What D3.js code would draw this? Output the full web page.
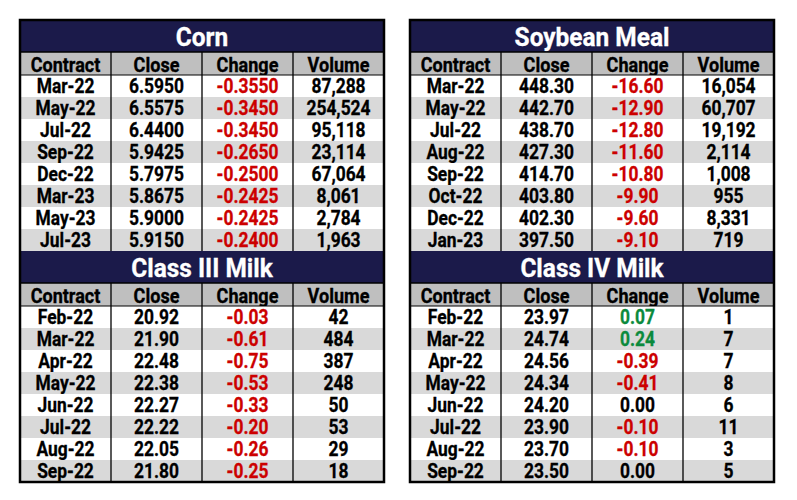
<!DOCTYPE html>
<html>
<head>
<meta charset="utf-8">
<script src="https://cdn.jsdelivr.net/npm/d3@7"></script>
<style>
  body { margin: 0; background: #fff; }
  svg text { font-family: Roboto, "Liberation Sans", sans-serif; font-weight: bold; }
</style>
</head>
<body>
<div id="chart"></div>
<script>
var columns = ['Contract', 'Close', 'Change', 'Volume'];

var corn_contracts = ['Mar-22', 'May-22', 'Jul-22', 'Sep-22', 'Dec-22', 'Mar-23', 'May-23', 'Jul-23'];
var corn_close = [6.5950, 6.5575, 6.4400, 5.9425, 5.7975, 5.8675, 5.9000, 5.9150];
var corn_change = [-0.3550, -0.3450, -0.3450, -0.2650, -0.2500, -0.2425, -0.2425, -0.2400];
var corn_volume = [87288, 254524, 95118, 23114, 67064, 8061, 2784, 1963];

var meal_contracts = ['Mar-22', 'May-22', 'Jul-22', 'Aug-22', 'Sep-22', 'Oct-22', 'Dec-22', 'Jan-23'];
var meal_close = [448.30, 442.70, 438.70, 427.30, 414.70, 403.80, 402.30, 397.50];
var meal_change = [-16.60, -12.90, -12.80, -11.60, -10.80, -9.90, -9.60, -9.10];
var meal_volume = [16054, 60707, 19192, 2114, 1008, 955, 8331, 719];

var milk3_contracts = ['Feb-22', 'Mar-22', 'Apr-22', 'May-22', 'Jun-22', 'Jul-22', 'Aug-22', 'Sep-22'];
var milk3_close = [20.92, 21.90, 22.48, 22.38, 22.27, 22.22, 22.05, 21.80];
var milk3_change = [-0.03, -0.61, -0.75, -0.53, -0.33, -0.20, -0.26, -0.25];
var milk3_volume = [42, 484, 387, 248, 50, 53, 29, 18];

var milk4_contracts = ['Feb-22', 'Mar-22', 'Apr-22', 'May-22', 'Jun-22', 'Jul-22', 'Aug-22', 'Sep-22'];
var milk4_close = [23.97, 24.74, 24.56, 24.34, 24.20, 23.90, 23.70, 23.50];
var milk4_change = [0.07, 0.24, -0.39, -0.41, 0.00, -0.10, -0.10, 0.00];
var milk4_volume = [1, 7, 7, 8, 6, 11, 3, 5];

var locale = d3.formatLocale({decimal: '.', thousands: ',', grouping: [3], currency: ['$', ''], minus: '-'});

var panels = [
    { title: 'Corn', side: 0, slot: 0, digits: 4, contracts: corn_contracts, close: corn_close, change: corn_change, volume: corn_volume },
    { title: 'Class III Milk', side: 0, slot: 1, digits: 2, contracts: milk3_contracts, close: milk3_close, change: milk3_change, volume: milk3_volume },
    { title: 'Soybean Meal', side: 1, slot: 0, digits: 2, contracts: meal_contracts, close: meal_close, change: meal_change, volume: meal_volume },
    { title: 'Class IV Milk', side: 1, slot: 1, digits: 2, contracts: milk4_contracts, close: milk4_close, change: milk4_change, volume: milk4_volume }
];

var width = 797, height = 500;
var table_width = 364;
var side_x = [20, 410];
var top_y = 20;
var title_h = 32, header_h = 23, row_h = 22, n_rows = 8;
var panel_h = title_h + header_h + n_rows * row_h;

var navy = '#1b1a4a', header_grey = '#bfbfbf', stripe = '#d9d9d9';
var red = '#cc0000', green = '#0b8a3c';

// squeeze text horizontally to mimic the condensed face of the original
var header_squeeze = 0.86, cell_squeeze = 0.87, title_squeeze = 0.94;

var svg = d3.select('#chart').append('svg')
    .attr('width', width)
    .attr('height', height);

function squeezed(sel, x, y, sx) {
    return sel.attr('transform', 'translate(' + x + ',' + y + ') scale(' + sx + ',1)')
        .attr('text-anchor', 'middle');
}

panels.forEach(function(p) {
    var x0 = side_x[p.side];
    var y0 = top_y + p.slot * panel_h;
    var fmt = locale.format('.' + p.digits + 'f');
    var vol_fmt = locale.format(',');

    var xCol = d3.scaleBand().domain(columns).range([x0, x0 + table_width]);
    var yRow = d3.scaleBand().domain(d3.range(n_rows)).range([y0 + title_h + header_h, y0 + panel_h]);

    var g = svg.append('g');

    // title bar
    g.append('rect')
        .attr('x', x0).attr('y', y0)
        .attr('width', table_width).attr('height', title_h)
        .attr('fill', navy);
    squeezed(g.append('text'), x0 + table_width / 2, y0 + title_h - 6, title_squeeze)
        .attr('fill', '#fff')
        .attr('stroke', '#fff').attr('stroke-width', 0.3)
        .style('font-size', '26px')
        .text(p.title);

    // header row
    g.append('rect')
        .attr('x', x0).attr('y', y0 + title_h)
        .attr('width', table_width).attr('height', header_h)
        .attr('fill', header_grey);
    g.selectAll('.hdr').data(columns).enter().append('text')
        .each(function(d) {
            squeezed(d3.select(this), xCol(d) + xCol.bandwidth() / 2, y0 + title_h + header_h - 3.5, header_squeeze);
        })
        .attr('fill', '#000')
        .attr('stroke', '#000').attr('stroke-width', 0.35)
        .style('font-size', '21px')
        .text(function(d) { return d; });

    // data rows
    var rows = p.contracts.map(function(c, i) {
        return { i: i, cells: [
            { col: 'Contract', text: c, color: '#000' },
            { col: 'Close', text: fmt(p.close[i]), color: '#000' },
            { col: 'Change', text: fmt(p.change[i]), color: p.change[i] < 0 ? red : (p.change[i] > 0 ? green : '#000') },
            { col: 'Volume', text: vol_fmt(p.volume[i]), color: '#000' }
        ]};
    });

    var row_g = g.selectAll('.row').data(rows).enter().append('g');
    row_g.append('rect')
        .attr('x', x0)
        .attr('y', function(d) { return yRow(d.i); })
        .attr('width', table_width)
        .attr('height', yRow.bandwidth())
        .attr('fill', function(d) { return d.i % 2 ? stripe : '#fff'; });
    row_g.selectAll('text').data(function(d) { return d.cells.map(function(c) { c.i = d.i; return c; }); })
        .enter().append('text')
        .each(function(c) {
            squeezed(d3.select(this), xCol(c.col) + xCol.bandwidth() / 2, yRow(c.i) + yRow.bandwidth() - 4, cell_squeeze);
        })
        .attr('fill', function(c) { return c.color; })
        .attr('stroke', function(c) { return c.color; }).attr('stroke-width', 0.3)
        .style('font-size', '20px')
        .text(function(c) { return c.text; });

    // lines
    g.append('line')
        .attr('x1', x0).attr('x2', x0 + table_width)
        .attr('y1', y0 + title_h).attr('y2', y0 + title_h)
        .attr('stroke', '#000').attr('stroke-width', 1.5);
    g.append('line')
        .attr('x1', x0).attr('x2', x0 + table_width)
        .attr('y1', y0 + title_h + header_h).attr('y2', y0 + title_h + header_h)
        .attr('stroke', '#000').attr('stroke-width', 1);
    g.selectAll('.divider').data(columns.slice(1)).enter().append('line')
        .attr('x1', function(d) { return xCol(d); })
        .attr('x2', function(d) { return xCol(d); })
        .attr('y1', y0 + title_h)
        .attr('y2', y0 + panel_h)
        .attr('stroke', '#000').attr('stroke-width', 1.3);
});

// outer frames
side_x.forEach(function(x0) {
    svg.append('rect')
        .attr('x', x0).attr('y', top_y)
        .attr('width', table_width).attr('height', 2 * panel_h)
        .attr('fill', 'none')
        .attr('stroke', '#000')
        .attr('stroke-width', 2.5);
});
</script>
</body>
</html>
